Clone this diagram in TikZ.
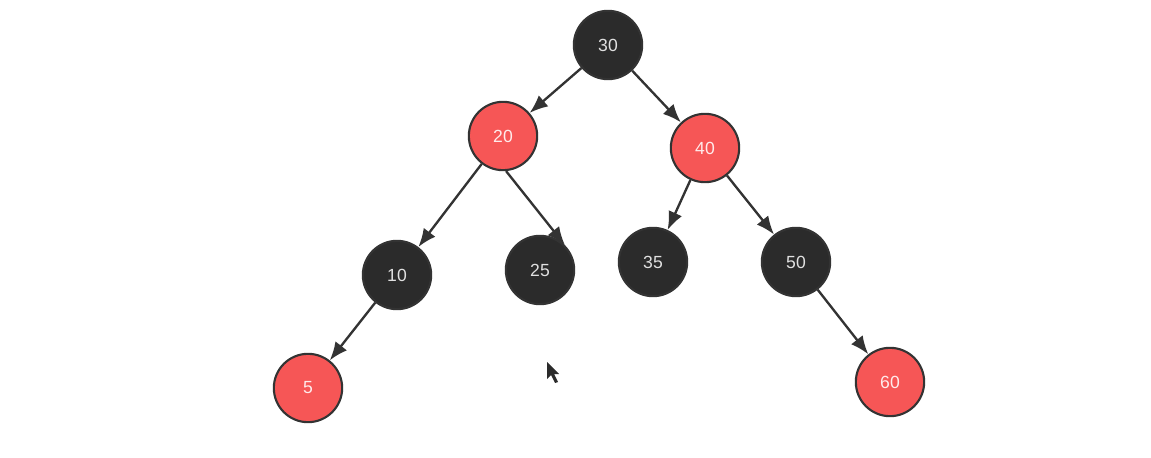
\documentclass[tikz,border=0pt]{standalone}
\usepackage{fontspec}
\setmainfont{Liberation Sans}
\usetikzlibrary{arrows.meta}
\definecolor{nblack}{HTML}{2B2B2B}
\definecolor{nred}{HTML}{F65656}
\definecolor{edge}{HTML}{333333}
\begin{document}
\begin{tikzpicture}[
          x=0.03cm, y=-0.03cm,
          font=\fontsize{15}{17}\selectfont,
          rb/.style={circle, draw=edge, line width=1.8pt, minimum size=2.05cm,
                     inner sep=0pt},
          blk/.style={rb, fill=nblack, text=white!88!black},
          red/.style={rb, fill=nred, text=white!92!red},
          fl/.style={-{Latex[length=5.5mm,width=4.4mm]}, draw=edge, line width=2pt}
        ]
        \useasboundingbox (0,0) rectangle (1151,458);
        \node[blk] (n30) at (608,45)  {30};
        \node[red] (n20) at (503,136) {20};
        \node[red] (n40) at (705,148) {40};
        \node[blk] (n10) at (397,275) {10};
        \node[blk] (n25) at (540,270) {25};
        \node[blk] (n35) at (653,262) {35};
        \node[blk] (n50) at (796,262) {50};
        \node[red] (n5)  at (308,388) {5};
        \node[red] (n60) at (890,382) {60};
        \draw[fl] (n30) -- (n20);
        \draw[fl] (n30) -- (n40);
        \draw[fl] (n20) -- (n10);
        \draw[fl] (n20.-85) -- (n25.45);
        \draw[fl] (n40) -- (n35);
        \draw[fl] (n40) -- (n50);
        \draw[fl] (n10) -- (n5);
        \draw[fl] (n50) -- (n60);
        % mouse pointer
        \fill[nblack] (547,362) -- (547,379) -- (551,375) -- (555,383) -- (558,382)
          -- (554,374) -- (559,374) -- cycle;
      \end{tikzpicture}
\end{document}
